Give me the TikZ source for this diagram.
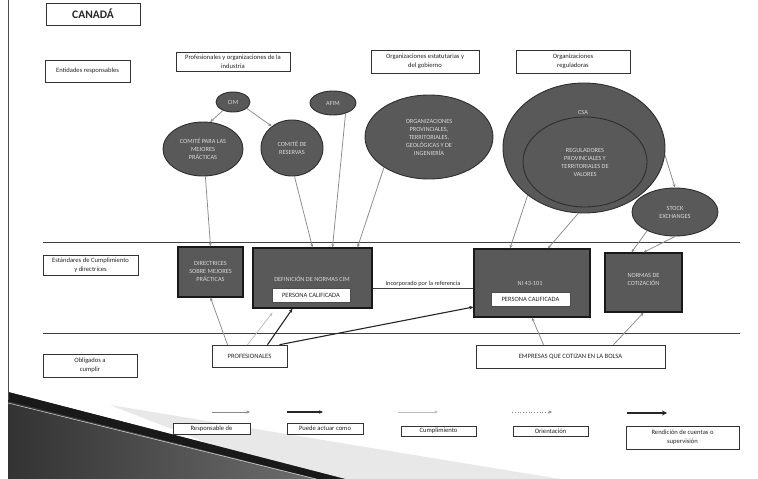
\documentclass[tikz,border=0pt]{standalone}
\usepackage{fontspec}
\setmainfont{Carlito}
\usetikzlibrary{arrows.meta,shapes.geometric}
\definecolor{darkfill}{HTML}{595959}
\definecolor{darkedge}{HTML}{2E2E2E}
\definecolor{conn}{HTML}{8A8A8A}
\definecolor{lightconn}{HTML}{BDBDBD}
\tikzset{
  lbl/.style={draw=black!80, line width=0.6pt, fill=white, inner sep=0pt, align=center,
    font=\fontsize{6.6}{9}\selectfont, text=black!85},
  darkell/.style={ellipse, draw=darkedge, line width=0.9pt, fill=darkfill, inner sep=0pt,
    align=center, font=\fontsize{6.3}{8}\selectfont, text=white!85!black},
  darkbox/.style={rectangle, draw=black!90, line width=1.3pt, fill=darkfill, inner sep=0pt},
  intext/.style={align=center, font=\fontsize{6.3}{8}\selectfont, text=white!85!black, inner sep=0pt},
  pcbox/.style={rectangle, draw=black!70, line width=0.5pt, fill=white, inner sep=0pt,
    font=\fontsize{6.5}{7.5}\selectfont, text=black!85},
  garrow/.style={draw=conn, line width=0.75pt, -{Stealth[length=3.5pt,width=3pt]}},
  larrow/.style={draw=lightconn, line width=0.75pt, -{Stealth[length=3.5pt,width=3pt]}},
  barrow/.style={draw=black!85, line width=1.1pt, -{Stealth[length=4pt,width=3.5pt]}},
  darrow/.style={draw=conn, line width=0.75pt, dotted, -{Stealth[length=3.5pt,width=3pt]}},
  rarrow/.style={draw=black!85, line width=1.1pt, -{Stealth[length=5pt,width=5pt]}},
  band/.style={draw=black!75, line width=0.6pt}
}
\begin{document}
\begin{tikzpicture}[x=1pt,y=-1pt]
\useasboundingbox (0,0) rectangle (758,479);
\fill[white] (0,0) rectangle (758,479);

% background slide decorations
\fill[gray!18] (110,405) -- (560,479) -- (300,479) -- cycle;
\shade[left color=black!80, right color=black!55] (8,392) -- (345,479) -- (8,479) -- cycle;
\fill[black!90] (8,392) -- (345,479) -- (318,479) -- (8,401) -- cycle;
\draw[white!70!gray, line width=0.5pt] (8,403) -- (316,479);
\draw[black!70, line width=0.8pt] (8,0) -- (8,400);

% band separators
\coordinate (b1l) at (43,242); \coordinate (b1r) at (740,242);
\coordinate (b2l) at (43,333); \coordinate (b2r) at (740,333);
\draw[band] (b1l) -- (b1r);
\draw[band] (b2l) -- (b2r);

% label boxes
\node[lbl, minimum width=94pt, minimum height=22pt, font=\fontsize{11.5}{13}\bfseries\selectfont] (canada) at (93,14) {CANADÁ};
\node[lbl, minimum width=85pt, minimum height=22pt] (ent) at (87.5,71) {Entidades responsables};
\node[lbl, minimum width=114pt, minimum height=19pt] (prof) at (233,61.5) {Profesionales y organizaciones de la\\industria};
\node[lbl, minimum width=108pt, minimum height=23pt] (est) at (425,61.5) {Organizaciones estatutarias y\\del gobierno};
\node[lbl, minimum width=114pt, minimum height=23pt] (regs) at (573,61.5) {Organizaciones\\reguladoras};
\node[lbl, minimum width=95pt, minimum height=20pt] (estd) at (90.5,265) {Estándares de Cumplimiento\\y directrices};
\node[lbl, minimum width=94pt, minimum height=23pt] (obl) at (90,365.5) {Obligados a\\cumplir};
\node[lbl, minimum width=75pt, minimum height=22pt] (pro) at (249.5,356) {PROFESIONALES};
\node[lbl, minimum width=189pt, minimum height=23pt] (emp) at (570.5,356.5) {EMPRESAS QUE COTIZAN EN LA BOLSA};

% ellipses
\node[darkell, minimum width=34pt, minimum height=20pt] (cim) at (233,102) {CIM};
\node[darkell, minimum width=46pt, minimum height=24pt] (afim) at (333,103) {AFIM};
\node[darkell, minimum width=80pt, minimum height=54pt] (cmp) at (203,149) {COMITÉ PARA LAS\\MEJORES\\PRÁCTICAS};
\node[darkell, minimum width=62pt, minimum height=56pt] (cdr) at (292,148) {COMITÉ DE\\RESERVAS};
\node[darkell, minimum width=128pt, minimum height=84pt] (org) at (429,137) {ORGANIZACIONES\\PROVINCIALES,\\TERRITORIALES,\\GEOLÓGICAS Y DE\\INGENIERÍA};
\node[darkell, minimum width=162pt, minimum height=130pt] (csa) at (584,148) {};
\node[intext] (csat) at (583,112) {CSA};
\node[darkell, minimum width=124pt, minimum height=90pt] (reg) at (585,162) {REGULADORES\\PROVINCIALES Y\\TERRITORIALES DE\\VALORES};
\node[darkell, minimum width=86pt, minimum height=48pt] (stock) at (675,212) {STOCK\\EXCHANGES};

% dark boxes
\node[darkbox, minimum width=65pt, minimum height=50pt] (dir) at (210.5,272) {};
\node[intext] (dirt) at (210.5,271) {DIRECTRICES\\SOBRE MEJORES\\PRÁCTICAS};
\node[darkbox, minimum width=119pt, minimum height=60pt] (def) at (312.5,278) {};
\node[intext] (deft) at (312,279) {DEFINICIÓN DE NORMAS CIM};
\node[pcbox, minimum width=78pt, minimum height=14pt] (pc1) at (311,295) {PERSONA CALIFICADA};
\node[darkbox, minimum width=116pt, minimum height=68pt] (ni) at (532,283) {};
\node[intext] (nit) at (530,283) {NI 43-101};
\node[pcbox, minimum width=79pt, minimum height=14pt] (pc2) at (530.5,299) {PERSONA CALIFICADA};
\node[darkbox, minimum width=77pt, minimum height=59pt] (nor) at (643.5,282.5) {};
\node[intext] (nort) at (643.5,279) {NORMAS DE\\COTIZACIÓN};

% connectors from responsible entities
\draw[garrow] (cim.220) -- (cmp.75);
\draw[garrow] (cim.335) -- (cdr.133);
\draw[garrow] (cmp.-85) -- (dir.north);
\draw[garrow] (cdr.-85) -- (def.north);
\draw[garrow] (afim.-40) -- ([xshift=20]def.north);
\draw[garrow] (org.214) -- ([xshift=45]def.north);
\draw[garrow] (csa.220) -- ([xshift=-22]ni.north);
\draw[garrow] (csa.-95) -- ([xshift=16]ni.north);
\draw[garrow] (csa.-5) -- (stock.north);
\draw[garrow] (stock.214) -- ([xshift=-12]nor.north);
\draw[garrow] (stock.-90) -- (nor.north);

% incorporated by reference
\draw[draw=black!75, line width=0.6pt] ([yshift=-10]def.east) -- ([yshift=-5]ni.west)
  node[midway, above=1pt, font=\fontsize{6.3}{7}\selectfont, text=black!85, inner sep=0.5pt] (inc) {Incorporado por la referencia};

% obligated parties
\draw[garrow] ([xshift=-22]pro.north) -- (dir.south);
\draw[larrow] ([xshift=-2]pro.north) -- ([xshift=-40,yshift=-4]def.south);
\draw[barrow] ([xshift=18]pro.north) -- ([xshift=-20]def.south);
\draw[barrow] ([xshift=30]pro.north) -- ([yshift=-24]ni.west);
\draw[garrow] ([xshift=-27]emp.north) -- (ni.south);
\draw[garrow] ([xshift=43]emp.north) -- (nor.south);

% legend
\node[lbl, minimum width=77pt, minimum height=11pt] (leg1) at (211.5,428.5) {Responsable de};
\node[lbl, minimum width=76pt, minimum height=11pt] (leg2) at (325,428.5) {Puede actuar como};
\node[lbl, minimum width=75pt, minimum height=10pt] (leg3) at (438.5,431) {Cumplimiento};
\node[lbl, minimum width=75pt, minimum height=10pt] (leg4) at (550.5,431) {Orientación};
\node[lbl, minimum width=113pt, minimum height=23pt] (leg5) at (682.5,437.5) {Rendición de cuentas o\\supervisión};
\coordinate (a1s) at (212,412); \coordinate (a1e) at (250,412);
\coordinate (a2s) at (287,412); \coordinate (a2e) at (323,412);
\coordinate (a3s) at (398,412); \coordinate (a3e) at (438,412);
\coordinate (a4s) at (512,412); \coordinate (a4e) at (552,412);
\coordinate (a5s) at (627,413); \coordinate (a5e) at (667,413);
\draw[garrow] (a1s) -- (a1e);
\draw[barrow] (a2s) -- (a2e);
\draw[larrow] (a3s) -- (a3e);
\draw[darrow] (a4s) -- (a4e);
\draw[rarrow] (a5s) -- (a5e);
\end{tikzpicture}
\end{document}
